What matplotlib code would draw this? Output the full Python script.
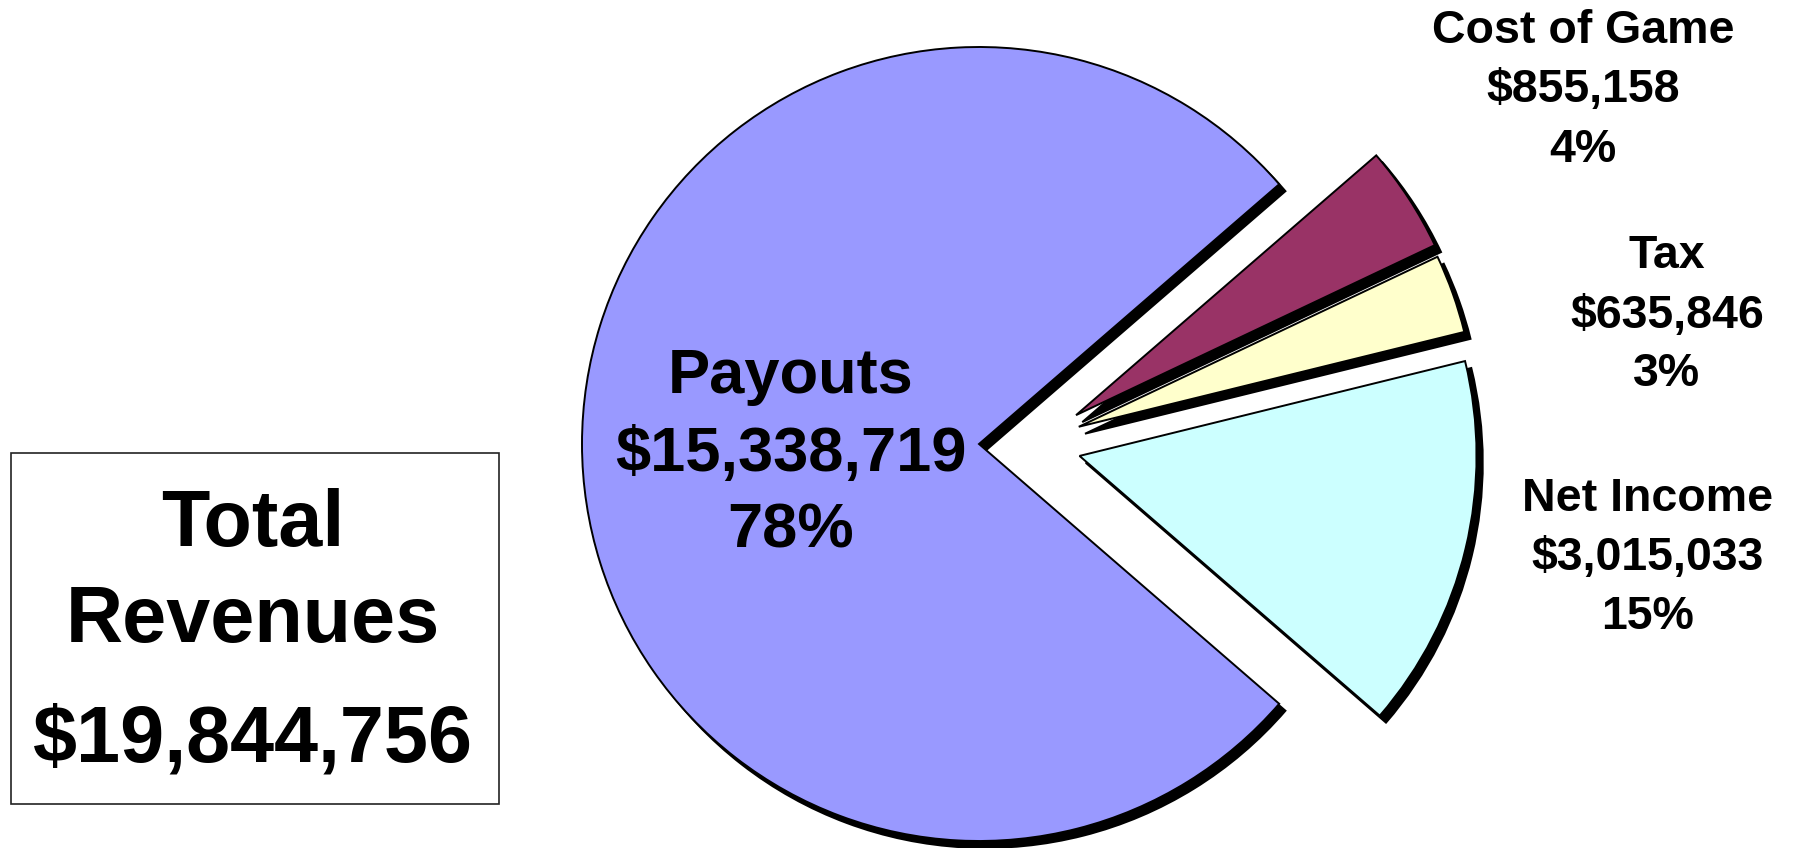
import numpy as np
import matplotlib.pyplot as plt
from matplotlib.patches import Rectangle

# datos del grafico
categories = ['Payouts', 'Cost of Game', 'Tax', 'Net Income']
values = [15338719, 855158, 635846, 3015033]
pct_labels = ['78%', '4%', '3%', '15%']
colors = ['#9999FF', '#993366', '#FFFFCC', '#CCFFFF']
total = 19844756

W, H = 1795, 848
fig = plt.figure(figsize=(W / 100, H / 100), dpi=100)
ax = fig.add_axes([0, 0, 1, 1])

font = dict(family='Liberation Sans', weight='bold', color='black')

# pie en coordenadas de pixel (y hacia arriba)
cx, cy, r = 979, 404, 397
expl = 0.255
start = 180 + 360 * values[0] / sum(values) / 2
wedges, _ = ax.pie(values, colors=colors, explode=[0, expl, expl, expl],
                   startangle=start, counterclock=False,
                   center=(cx, cy), radius=r,
                   wedgeprops=dict(edgecolor='black', linewidth=1.4),
                   shadow=dict(ox=4.5, oy=-5, shade=1.0, alpha=1))

# las porciones separadas se mueven mas hacia la derecha (como en Excel)
for w in wedges[1:]:
    mid = np.deg2rad((w.theta1 + w.theta2) / 2 * 0.5)
    d = expl * r
    w.set_center((cx + d * np.cos(mid), cy + d * np.sin(mid)))

ax.set_xlim(0, W)
ax.set_ylim(0, H)
ax.set_aspect('equal')
ax.axis('off')

# etiquetas de cada porcion: (x, baselines)
label_pos = [(791, [455, 377, 300]),
             (1583, [805, 746, 686]),
             (1667, [580, 520, 462]),
             (1648, [337, 278, 219])]
sizes = [45.5, 33.5, 33.5, 33.5]
for i, (x, ys) in enumerate(label_pos):
    lines = [categories[i], f'${values[i]:,}', pct_labels[i]]
    for txt, y in zip(lines, ys):
        ax.text(x, y, txt, ha='center', va='baseline', fontsize=sizes[i], **font)

# cuadro de ingresos totales
ax.add_patch(Rectangle((11, 44), 488, 351, fill=False, edgecolor='#222222', linewidth=1.2))
for txt, y in zip(['Total', 'Revenues', f'${total:,}'], [302, 206, 86]):
    ax.text(253, y, txt, ha='center', va='baseline', fontsize=57, **font)

fig.savefig('out.png', dpi=100)
